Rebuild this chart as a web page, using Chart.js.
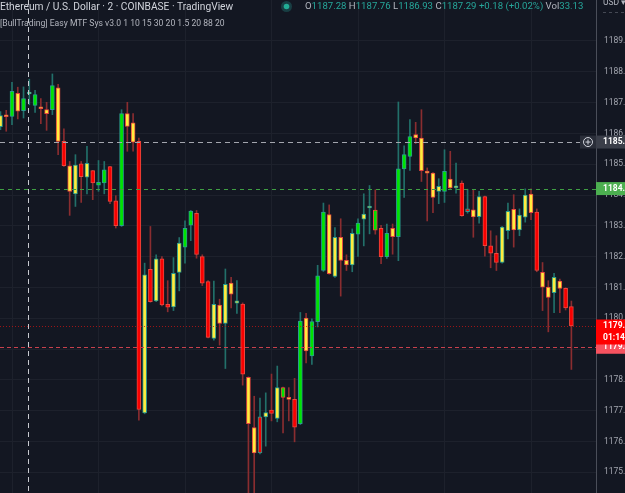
<!DOCTYPE html>
<html><head><meta charset="utf-8">
<script src="https://cdn.jsdelivr.net/npm/chart.js@4.4.0/dist/chart.umd.min.js"></script>
<style>html,body{margin:0;padding:0;background:#131722;overflow:hidden}canvas{display:block}</style>
</head><body><canvas id="c" width="625" height="493"></canvas>
<script>
// ---- data ----
const candleNumbers = Array.from({length:100},(_,i)=>i+1);
const opens = [1186.22,1186.58,1186.55,1187.30,1186.74,1187.28,1186.91,1186.85,1186.77,1186.77,
1187.48,1185.74,1184.95,1184.04,1185.01,1184.58,1184.79,1184.32,1184.39,1184.92,
1183.81,1183.01,1186.64,1186.34,1185.74,1176.93,1181.59,1180.56,1181.93,1180.45,
1180.37,1181.49,1182.31,1183.02,1183.41,1182.00,1181.19,1179.35,1180.43,1179.83,
1181.14,1180.49,1180.46,1178.08,1176.45,1175.63,1176.80,1177.02,1176.75,1177.75,
1177.43,1177.37,1176.58,1180.01,1178.78,1179.89,1181.55,1183.37,1181.36,1182.63,
1181.88,1181.73,1182.73,1183.22,1183.58,1183.51,1182.92,1182.00,1182.92,1182.65,
1184.85,1185.25,1185.96,1185.85,1184.77,1184.71,1184.12,1184.12,1184.52,1184.23,
1184.39,1183.46,1183.52,1183.30,1183.95,1182.35,1182.11,1181.81,1182.84,1183.54,
1182.87,1183.28,1184.03,1183.45,1181.49,1181.01,1180.83,1181.21,1180.97,1180.38];
const highs = [1186.71,1186.75,1187.66,1187.50,1187.51,1187.76,1187.40,1187.13,1187.01,1187.93,
1187.59,1186.15,1185.09,1185.31,1185.09,1185.58,1184.80,1185.12,1185.09,1184.93,
1183.98,1186.77,1187.01,1186.64,1185.85,1181.79,1182.98,1182.06,1182.00,1181.22,
1181.97,1182.62,1183.16,1183.50,1183.50,1182.06,1181.22,1181.21,1180.62,1181.60,
1181.33,1181.22,1180.50,1178.10,1177.47,1177.41,1177.58,1178.19,1178.45,1177.77,
1177.75,1178.05,1180.19,1180.16,1179.98,1181.72,1183.74,1183.68,1182.94,1183.23,
1182.06,1182.90,1183.23,1184.04,1184.31,1184.17,1183.02,1183.06,1183.06,1187.02,
1185.60,1186.45,1186.36,1186.77,1184.88,1184.73,1184.53,1185.47,1185.42,1185.04,
1184.46,1184.19,1184.17,1184.12,1183.97,1182.84,1182.68,1182.98,1183.74,1184.01,
1183.55,1184.20,1184.20,1183.55,1181.81,1181.22,1181.46,1181.27,1180.99,1180.56];
const lows = [1186.12,1186.07,1186.28,1186.47,1186.50,1186.93,1186.68,1186.32,1186.10,1186.61,
1185.31,1184.93,1183.34,1183.63,1183.76,1184.04,1183.85,1184.12,1184.04,1183.72,
1182.93,1182.98,1185.42,1185.42,1176.69,1176.90,1180.52,1180.54,1180.40,1180.21,
1180.25,1180.89,1181.79,1182.52,1181.95,1181.06,1179.36,1179.29,1179.13,1178.37,
1180.34,1180.16,1177.83,1174.20,1174.25,1175.60,1175.85,1176.67,1176.64,1176.28,
1176.67,1175.99,1176.55,1178.55,1178.50,1179.72,1181.52,1181.43,1181.33,1180.72,
1181.55,1181.51,1182.01,1182.35,1182.74,1182.73,1181.77,1181.94,1182.08,1181.87,
1183.92,1184.80,1185.67,1184.44,1183.16,1183.43,1183.72,1183.76,1184.21,1184.06,
1183.31,1183.41,1182.63,1183.09,1182.02,1181.64,1181.55,1181.79,1182.58,1182.31,
1182.68,1183.12,1183.20,1181.51,1180.25,1179.56,1180.18,1180.18,1180.27,1178.34];
const closes = [1186.58,1186.54,1187.37,1186.72,1187.13,1187.29,1187.26,1186.80,1186.64,1187.55,
1185.74,1184.95,1184.12,1184.97,1184.60,1185.03,1184.39,1184.41,1184.82,1183.79,
1183.01,1186.64,1186.23,1185.72,1177.04,1181.41,1180.54,1181.93,1180.43,1180.36,
1181.46,1182.44,1182.92,1183.48,1182.07,1181.14,1179.38,1180.45,1179.83,1181.10,
1180.78,1180.57,1178.19,1176.58,1175.63,1176.80,1176.94,1176.91,1177.75,1177.43,
1177.37,1176.47,1179.91,1178.94,1179.89,1181.38,1183.45,1181.45,1182.63,1181.88,
1181.73,1182.76,1183.09,1183.38,1183.62,1182.86,1182.00,1182.76,1182.65,1184.85,
1185.31,1185.90,1185.85,1184.79,1184.71,1183.92,1184.28,1184.77,1184.23,1184.30,
1183.33,1183.55,1183.29,1183.95,1182.36,1182.11,1181.81,1182.96,1183.47,1182.87,
1183.35,1184.00,1183.43,1181.55,1181.01,1180.68,1181.33,1180.97,1180.34,1179.75];
// indicator colour of each candle body: G green, Y yellow, R red
const fills = ['Y','Y','G','Y','G','Y','G','Y','Y','G',
'Y','R','Y','Y','R','Y','R','G','G','R',
'R','G','Y','Y','R','Y','R','Y','R','R',
'Y','Y','G','G','R','R','R','Y','Y','Y',
'Y','Y','R','Y','Y','R','Y','R','Y','G',
'Y','R','G','Y','G','G','G','Y','Y','Y',
'Y','Y','G','Y','Y','G','R','G','Y','G',
'G','G','Y','Y','Y','Y','Y','G','Y','Y',
'R','R','Y','Y','R','R','R','Y','Y','Y',
'Y','Y','Y','R','Y','Y','Y','Y','R','R'];
const priceTicks = [1175,1176,1177,1178,1179,1180,1181,1182,1183,1184,1185,1186,1187,1188,1189];
const timeGridCandles = [3,18,33,48,63,78,93];
const crosshairCandle = 6;
const crosshairPrice = 1185.72;
const alertPrice = 1184.21;
const lastPrice = 1179.75;
const otherPrice = 1179.06;
const countdown = '01:14';
const changeText = '+0.18 (+0.02%)';
const volumeText = '33.13';

const fillMap = {G:'#00e400', Y:'#ffec3d', R:'#f80000'};
const isUp = i => closes[i] >= opens[i];

const overlay = {
  id:'overlay',
  beforeDraw(chart){
    const ctx = chart.ctx; ctx.save();
    ctx.fillStyle = '#131722'; ctx.fillRect(0,0,chart.width,chart.height);
    ctx.restore();
  },
  afterDatasetsDraw(chart){
    const ctx = chart.ctx, ys = chart.scales.y, xs = chart.scales.x, ca = chart.chartArea;
    ctx.save();
    const hline = (v, color, dash, x1) => {
      const y = Math.round(ys.getPixelForValue(v)) + 0.5;
      ctx.strokeStyle = color; ctx.setLineDash(dash); ctx.lineWidth = 1;
      ctx.beginPath(); ctx.moveTo(ca.left, y); ctx.lineTo(x1, y); ctx.stroke();
    };
    hline(alertPrice, '#3f9e43', [4,4], ca.right);
    hline(lastPrice, 'rgba(190,20,20,0.8)', [1,2], ca.right);
    hline(otherPrice, '#c8414d', [4,3], ca.right);
    hline(crosshairPrice, '#a3a6ae', [5,4], ca.right - 16);
    const cx = Math.round(xs.getPixelForValue(crosshairCandle)) - 0.5;
    ctx.strokeStyle = '#c8cad0'; ctx.setLineDash([5,4]);
    ctx.beginPath(); ctx.moveTo(cx, 0); ctx.lineTo(cx, chart.height); ctx.stroke();
    ctx.restore();
  },
  afterDraw(chart){
    const ctx = chart.ctx, ys = chart.scales.y, ca = chart.chartArea;
    ctx.save();
    ctx.textBaseline = 'middle';
    // header line 1
    ctx.font = '10.2px Roboto';
    ctx.fillStyle = '#d1d4dc';
    ctx.textAlign = 'left';
    ctx.fillText('Ethereum / U.S. Dollar · 2 · COINBASE · TradingView', 0, 7);
    ctx.fillStyle = 'rgba(38,166,154,0.28)';
    ctx.beginPath(); ctx.arc(286.5, 6.5, 5.5, 0, Math.PI*2); ctx.fill();
    ctx.fillStyle = '#22ab94';
    ctx.beginPath(); ctx.arc(286.5, 6.5, 2.8, 0, Math.PI*2); ctx.fill();
    const k = crosshairCandle - 1;
    const parts = [['O','#b2b5be'],[opens[k].toFixed(2),'#26a69a'],[' H','#b2b5be'],[highs[k].toFixed(2),'#26a69a'],
      [' L','#b2b5be'],[lows[k].toFixed(2),'#26a69a'],[' C','#b2b5be'],[closes[k].toFixed(2),'#26a69a'],
      [' '+changeText,'#26a69a'],[' Vol','#b2b5be'],[volumeText,'#26a69a']];
    ctx.font = '9.6px Roboto';
    let x = 305;
    parts.forEach(([t,c]) => { ctx.fillStyle = c; ctx.fillText(t, x, 7); x += ctx.measureText(t).width; });
    // header line 2
    ctx.font = '8.6px Roboto';
    ctx.fillStyle = '#b2b5be';
    ctx.fillText('[BullTrading] Easy MTF Sys v3.0 1 10 15 30 20 1.5 20 88 20', 0, 24);
    // USD
    ctx.font = '8.5px Roboto';
    ctx.fillStyle = '#b2b5be';
    ctx.fillText('USD ▾', 603, 3);
    ctx.strokeStyle = 'rgba(120,123,134,0.5)'; ctx.setLineDash([3,3]);
    ctx.beginPath(); ctx.moveTo(603, 12.5); ctx.lineTo(625, 12.5); ctx.stroke();
    ctx.setLineDash([]);
    // price boxes on the axis
    const box = (v, bg, h, lines) => {
      const y = ys.getPixelForValue(v);
      ctx.fillStyle = bg; ctx.fillRect(ca.right, y - 6.5, 40, h);
      ctx.fillStyle = '#ffffff'; ctx.font = 'bold 8.5px Roboto';
      lines.forEach((t,i) => ctx.fillText(t, ca.right + 7, y + i*11.5));
    };
    box(otherPrice, '#f7525f', 13, [otherPrice.toFixed(2)]);
    box(lastPrice, '#ff0000', 25, [lastPrice.toFixed(2), countdown]);
    box(alertPrice, '#4caf50', 13, [alertPrice.toFixed(2)]);
    box(crosshairPrice, '#3a3e49', 13, [crosshairPrice.toFixed(2)]);
    // crosshair "+" button
    const cy = ys.getPixelForValue(crosshairPrice);
    ctx.fillStyle = '#2a2e39'; ctx.fillRect(ca.right - 16, cy - 6.5, 16, 13);
    ctx.strokeStyle = '#d1d4dc'; ctx.lineWidth = 1;
    ctx.beginPath(); ctx.arc(ca.right - 8, cy, 4.5, 0, Math.PI*2); ctx.stroke();
    ctx.beginPath(); ctx.moveTo(ca.right - 10.5, cy); ctx.lineTo(ca.right - 5.5, cy);
    ctx.moveTo(ca.right - 8, cy - 2.5); ctx.lineTo(ca.right - 8, cy + 2.5); ctx.stroke();
    ctx.restore();
  }
};

new Chart(document.getElementById('c'), {
  type: 'bar',
  data: {
    datasets: [
      {
        label: 'bodies',
        data: candleNumbers.map((n,i) => ({x:n, y:[opens[i], closes[i]]})),
        backgroundColor: fills.map(f => fillMap[f]),
        borderColor: candleNumbers.map((n,i) => isUp(i) ? '#2b9c8e' : '#e8493f'),
        borderWidth: 1,
        borderSkipped: false,
        barThickness: 4,
        minBarLength: 2,
        grouped: false
      },
      {
        label: 'wicks',
        data: candleNumbers.map((n,i) => ({x:n, y:[lows[i], highs[i]]})),
        backgroundColor: candleNumbers.map((n,i) => isUp(i) ? '#22706a' : '#8a2d30'),
        borderWidth: 0,
        barThickness: 1,
        grouped: false
      }
    ]
  },
  options: {
    responsive: false,
    animation: false,
    devicePixelRatio: 1,
    layout: { padding: 0, autoPadding: false },
    plugins: { legend: {display:false}, tooltip: {enabled:false} },
    scales: {
      x: {
        type: 'linear', min: 0.919, max: 104.27, offset: false, bounds: 'ticks',
        afterBuildTicks: s => { s.ticks = timeGridCandles.map(v => ({value:v})); },
        afterFit: s => { s.paddingLeft = 0; s.paddingRight = 0; },
        ticks: { display: false },
        grid: { color: '#1d212c', drawTicks: false, offset: false },
        border: { display: false }
      },
      y: {
        position: 'right', min: 1174.33, max: 1190.33,
        afterBuildTicks: s => { s.ticks = priceTicks.map(v => ({value:v})); },
        afterFit: s => { s.width = 29; s.paddingTop = 0; s.paddingBottom = 0; },
        ticks: { padding: 8, color: '#a3a6af', font: {family:'Roboto', size: 8.5},
                 callback: v => Number(v).toFixed(2) },
        grid: { color: '#1d212c', drawTicks: false },
        border: { display: true, color: '#4a4e59' }
      }
    }
  },
  plugins: [overlay]
});
</script></body></html>
